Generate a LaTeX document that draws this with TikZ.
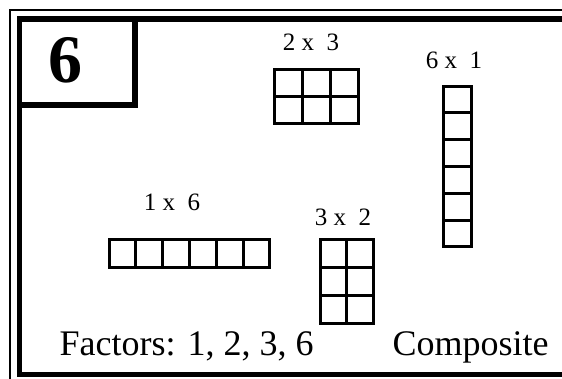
\documentclass[tikz,border=0pt]{standalone}
\usepackage{fontspec}
\setmainfont{Liberation Serif}
\usepackage{tikz}

\tikzset{
  cellbox/.style={line width=3pt},
  lbl/.style={anchor=base,font=\fontsize{25}{29}\selectfont},
  bigtxt/.style={anchor=base west,font=\fontsize{36}{40}\selectfont}
}

\begin{document}
\begin{tikzpicture}[x=1pt,y=-1pt]
\useasboundingbox (0,0) rectangle (562,378);
% frame
\draw[line width=1.5pt](10,400)--(10,10)--(600,10);
\draw[line width=5.5pt](600,19)--(19.5,19)--(19.5,374.5)--(600,374.5);
\draw[line width=5.5pt](19.5,19)rectangle(135,105);
\node[anchor=base,font=\bfseries\fontsize{68}{72}\selectfont] (num) at (65,82) {6};
% 2 x 3
\foreach \i in {0,1,2}
  \foreach \j in {0,1}
    \draw[cellbox]({274+28*\i},{69+27*\j})rectangle+(28,27);
\node[lbl] (lab23) at (311,50) {2 x \ 3};
% 6 x 1
\foreach \j in {0,...,5}
  \draw[cellbox](443,{86+26.8*\j})rectangle+(28,26.8);
\node[lbl] (lab61) at (454,68) {6 x \ 1};
% 3 x 2
\foreach \i in {0,1}
  \foreach \j in {0,1,2}
    \draw[cellbox]({320+26.7*\i},{239+28*\j})rectangle+(26.7,28);
\node[lbl] (lab32) at (343,225) {3 x \ 2};
% 1 x 6
\foreach \i in {0,...,5}
  \draw[cellbox]({109+26.8*\i},239)rectangle+(26.8,28);
\node[lbl] (lab16) at (172,210) {1 x \ 6};
% bottom line
\node[bigtxt] (fact) at (56,355) {Factors: 1, 2, 3, 6};
\node[bigtxt] (comp) at (389,355) {Composite};
\end{tikzpicture}
\end{document}
